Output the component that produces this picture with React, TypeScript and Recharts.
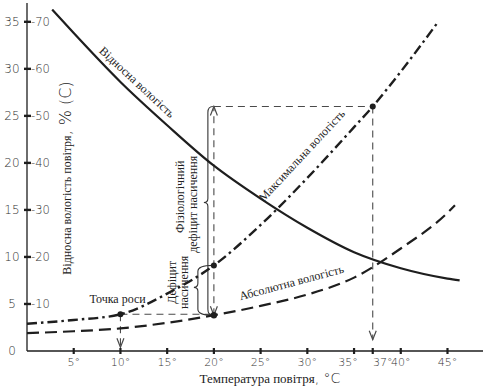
import { ComposedChart, Line, XAxis, YAxis, ReferenceLine, ReferenceDot } from 'recharts';

// relative humidity (solid)
const relTemps = [2.7, 5, 10, 15, 20, 25, 30, 35, 40, 45, 46.3];
const relValues = [36.3, 33.8, 28.6, 24.0, 19.7, 16.2, 13.1, 10.5, 8.8, 7.7, 7.5];
// maximum humidity (dash-dot)
const maxTemps = [0, 5, 10, 15, 20, 25, 30, 35, 37, 40, 44];
const maxValues = [2.9, 3.3, 3.9, 6.1, 9.1, 13.4, 18.4, 23.8, 26, 29.7, 35];
// absolute humidity (dashed)
const absTemps = [0, 5, 10, 15, 20, 25, 30, 35, 40, 45, 45.8];
const absValues = [1.9, 2.1, 2.4, 3.0, 3.8, 4.8, 6.0, 7.8, 10.9, 14.7, 15.5];

const xTicks = [5, 10, 15, 20, 25, 30, 35, 37, 40, 45];
const yTicks = [0, 5, 10, 15, 20, 25, 30, 35];
const rhLabels = ['', '-10', '-20', '-30', '-40', '-50', '-60', '-70'];

const dewTemp = 10;
const airTemp = 20;
const bodyTemp = 37;

const toRows = (ts: number[], vs: number[]) => ts.map((t, i) => ({ t, v: vs[i] }));
const valueAt = (ts: number[], vs: number[], t: number) => vs[ts.indexOf(t)];

const relData = toRows(relTemps, relValues);
const maxData = toRows(maxTemps, maxValues);
const absData = toRows(absTemps, absValues);

const dewV = valueAt(maxTemps, maxValues, dewTemp);
const maxAir = valueAt(maxTemps, maxValues, airTemp);
const absAir = valueAt(absTemps, absValues, airTemp);
const maxBody = valueAt(maxTemps, maxValues, bodyTemp);

const INK = '#1e1e1e';
const GUIDE = '#4a4a4a';
const SERIF = '"Liberation Serif", "DejaVu Serif", serif';
const HAND = '"DejaVu Sans", sans-serif';

const XTick = (props: any) => {
  const { x, y, payload } = props;
  const dx = payload.value === 37 ? 10 : payload.value === 35 ? -6 : 0;
  return (
    <g>
      <line x1={x} x2={x} y1={y - 3} y2={y + 3} stroke={INK} strokeWidth={2.2} />
      <text x={x + dx} y={y + 15} textAnchor="middle" fontSize={11} fontFamily={HAND} fill="#333" fontWeight={300}>
        {payload.value}°
      </text>
    </g>
  );
};

const YTick = (props: any) => {
  const { x, y, payload } = props;
  const i = yTicks.indexOf(payload.value);
  return (
    <g>
      <text x={x - 15} y={y} dy="0.35em" textAnchor="middle" fontSize={12} fontFamily={HAND} fill="#333" fontWeight={300}>
        {payload.value}
      </text>
      {i > 0 && <line x1={x - 3} x2={x + 4} y1={y} y2={y} stroke={INK} strokeWidth={2.4} />}
      {i > 0 && (
        <text x={x + 4} y={y} dy="0.35em" textAnchor="start" fontSize={11.5} fontFamily={HAND} fill="#333" fontWeight={300}>
          {rhLabels[i]}
        </text>
      )}
    </g>
  );
};

const label = (txt: string, angle: number, size = 12) => (p: any) => (
  <text
    x={p.cx}
    y={p.cy}
    dy="0.35em"
    textAnchor="middle"
    fontSize={size}
    fontFamily={SERIF}
    fill="#222"
    transform={`rotate(${angle} ${p.cx} ${p.cy})`}
  >
    {txt}
  </text>
);

const arrow = (dir: 1 | -1) => (p: any) => (
  <path
    d={`M${p.cx - 3.5},${p.cy - 9 * dir} L${p.cx},${p.cy} L${p.cx + 3.5},${p.cy - 9 * dir}`}
    fill="none"
    stroke={GUIDE}
    strokeWidth={1.2}
  />
);

const brace = (dx: number, ratio: number) => (p: any) => {
  const x = p.x1 + dx;
  const t = Math.min(p.y1, p.y2);
  const b = Math.max(p.y1, p.y2);
  const m = t + (b - t) * ratio;
  const d = [
    `M${p.x1 - 1},${t}`,
    `Q${x},${t} ${x},${t + 6}`,
    `L${x},${m - 4}`,
    `Q${x},${m} ${x - 4},${m}`,
    `Q${x},${m} ${x},${m + 4}`,
    `L${x},${b - 6}`,
    `Q${x},${b} ${p.x1 - 1},${b}`,
  ].join(' ');
  return <path d={d} fill="none" stroke="#333" strokeWidth={1.1} />;
};

export default function App() {
  return (
    <div style={{ position: 'absolute', left: 0, top: 0, width: 486, height: 389, background: '#fff' }}>
      <ComposedChart width={486} height={389} margin={{ top: 3, right: 3, bottom: 0, left: 0 }}>
        <XAxis
          type="number"
          dataKey="t"
          domain={[0, 48.8]}
          ticks={xTicks}
          interval={0}
          tick={XTick}
          tickSize={0}
          tickMargin={0}
          height={38}
          allowDataOverflow
          axisLine={{ stroke: INK, strokeWidth: 1.3 }}
        />
        <YAxis
          type="number"
          domain={[0, 37]}
          ticks={yTicks}
          interval={0}
          tick={YTick}
          tickSize={0}
          tickMargin={0}
          width={27}
          allowDataOverflow
          axisLine={{ stroke: INK, strokeWidth: 1.3 }}
        />

        {/* guide lines */}
        <ReferenceLine segment={[{ x: dewTemp, y: dewV }, { x: airTemp, y: dewV }]} stroke={GUIDE} strokeWidth={1.1} strokeDasharray="7 5" />
        <ReferenceLine segment={[{ x: dewTemp, y: dewV }, { x: dewTemp, y: 0.4 }]} stroke={GUIDE} strokeWidth={1.1} strokeDasharray="7 5" />
        <ReferenceLine segment={[{ x: airTemp, y: absAir }, { x: airTemp, y: maxBody }]} stroke={GUIDE} strokeWidth={1.1} strokeDasharray="7 5" />
        <ReferenceLine segment={[{ x: airTemp, y: maxBody }, { x: bodyTemp, y: maxBody }]} stroke={GUIDE} strokeWidth={1.1} strokeDasharray="7 5" />
        <ReferenceLine segment={[{ x: bodyTemp, y: maxBody }, { x: bodyTemp, y: 1.2 }]} stroke={GUIDE} strokeWidth={1.1} strokeDasharray="7 5" />

        {/* braces */}
        <ReferenceLine segment={[{ x: airTemp, y: maxBody }, { x: airTemp, y: absAir }]} shape={brace(-6, 0.46)} />
        <ReferenceLine segment={[{ x: airTemp, y: maxAir }, { x: airTemp, y: absAir }]} shape={brace(-16, 0.44)} />

        <Line data={relData} dataKey="v" type="monotone" stroke={INK} strokeWidth={2.2} dot={false} isAnimationActive={false} />
        <Line data={maxData} dataKey="v" type="monotone" stroke={INK} strokeWidth={2.4} strokeDasharray="10 4 2.5 4" dot={false} isAnimationActive={false} />
        <Line data={absData} dataKey="v" type="monotone" stroke={INK} strokeWidth={2.2} strokeDasharray="12 6" dot={false} isAnimationActive={false} />

        {/* arrows */}
        <ReferenceDot x={dewTemp} y={0.4} shape={arrow(1)} ifOverflow="visible" />
        <ReferenceDot x={bodyTemp} y={1.2} shape={arrow(1)} ifOverflow="visible" />
        <ReferenceDot x={airTemp} y={maxBody} shape={arrow(-1)} ifOverflow="visible" />
        <ReferenceDot x={airTemp} y={absAir} shape={arrow(1)} ifOverflow="visible" />

        {/* points */}
        <ReferenceDot x={dewTemp} y={dewV} r={3} fill={INK} stroke="none" />
        <ReferenceDot x={airTemp} y={maxAir} r={3} fill={INK} stroke="none" />
        <ReferenceDot x={airTemp} y={absAir} r={3.2} fill={INK} stroke="none" />
        <ReferenceDot x={bodyTemp} y={maxBody} r={3} fill={INK} stroke="none" />

        {/* text labels */}
        <ReferenceDot x={11.8} y={28.6} shape={label('Відносна вологість', 43)} ifOverflow="visible" />
        <ReferenceDot x={29.4} y={20.8} shape={label('Максимальна вологість', -47)} ifOverflow="visible" />
        <ReferenceDot x={28.3} y={7.3} shape={label('Абсолютна вологість', -15)} ifOverflow="visible" />
        <ReferenceDot x={9.7} y={5.6} shape={label('Точка роси', 0)} ifOverflow="visible" />
        <ReferenceDot x={16.4} y={16.4} shape={label('Фізіологічний', -90)} ifOverflow="visible" />
        <ReferenceDot x={17.75} y={15.6} shape={label('дефіцит насичення', -90)} ifOverflow="visible" />
        <ReferenceDot x={15.5} y={7.3} shape={label('Дефіцит', -90)} ifOverflow="visible" />
        <ReferenceDot x={16.8} y={7.3} shape={label('насичення', -90)} ifOverflow="visible" />
        <ReferenceDot
          x={4.1}
          y={18.4}
          ifOverflow="visible"
          shape={(p: any) => (
            <text x={p.cx} y={p.cy} dy="0.35em" textAnchor="middle" fill="#222" transform={`rotate(-90 ${p.cx} ${p.cy})`}>
              <tspan fontFamily={SERIF} fontSize={12}>Відносна вологість повітря</tspan>
              <tspan fontFamily={HAND} fontSize={16} fontWeight={300}>, % (C)</tspan>
            </text>
          )}
        />
        <ReferenceDot
          x={26}
          y={-2.85}
          ifOverflow="visible"
          shape={(p: any) => (
            <text x={p.cx} y={p.cy} dy="0.35em" textAnchor="middle" fill="#222">
              <tspan fontFamily={SERIF} fontSize={13}>Температура повітря</tspan>
              <tspan fontFamily={HAND} fontSize={14} fontWeight={300}>, °C</tspan>
            </text>
          )}
        />
      </ComposedChart>
    </div>
  );
}
